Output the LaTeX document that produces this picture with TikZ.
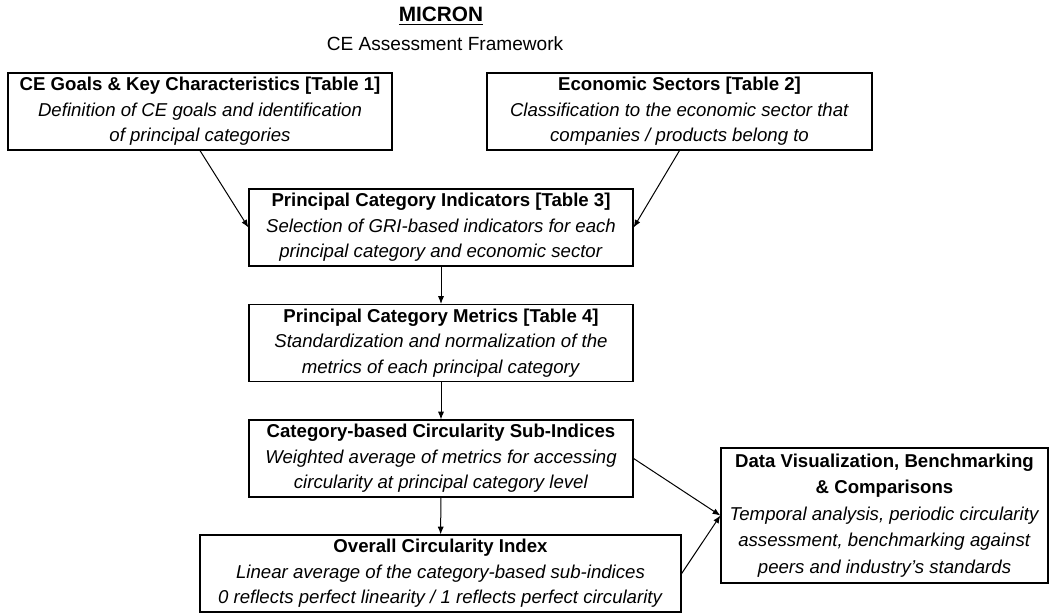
\documentclass[tikz,border=0pt]{standalone}
\usepackage{fontspec}
\setmainfont{Liberation Sans}
\usetikzlibrary{arrows.meta}

\begin{document}
\begin{tikzpicture}[x=0.65pt, y=-0.65pt,
    stage/.style={draw, line width=0.8pt, fill=white, align=center, inner sep=1pt,
        minimum width=249.6pt, minimum height=50pt,
        font=\fontsize{12.1}{16.6}\selectfont},
    link/.style={-{Latex[length=5pt, width=4pt]}, line width=0.65pt}]
            \useasboundingbox (0, 0) rectangle (1050, 615);

            %title
            \node[font=\fontsize{13.5}{16}\selectfont\bfseries] (title) at (441, 16) {\underline{MICRON}};
            \node[font=\fontsize{12.4}{16}\selectfont] (subtitle) at (445, 44) {CE Assessment Framework};

            %nodes
            \node[stage] (goals) at (200, 111.5) {\textbf{CE Goals \& Key Characteristics [Table 1]}\\
                \textit{Definition of CE goals and identification}\\ \textit{of principal categories}};
            \node[stage, minimum width=250.3pt] (sectors) at (679.5, 111.5) {\textbf{Economic Sectors [Table 2]}\\
                \textit{Classification to the economic sector that}\\ \textit{companies / products belong to}};
            \node[stage] (indicators) at (441, 227.5) {\textbf{Principal Category Indicators [Table 3]}\\
                \textit{Selection of GRI-based indicators for each}\\ \textit{principal category and economic sector}};
            \node[stage] (metrics) at (441, 343) {\textbf{Principal Category Metrics [Table 4]}\\
                \textit{Standardization and normalization of the}\\ \textit{metrics of each principal category}};
            \node[stage] (subidx) at (441, 458.5) {\textbf{Category-based Circularity Sub-Indices}\\
                \textit{Weighted average of metrics for accessing}\\ \textit{circularity at principal category level}};
            \node[stage, minimum width=312.7pt] (overall) at (440.5, 573.5) {\textbf{Overall Circularity Index}\\
                \textit{Linear average of the category-based sub-indices}\\ \textit{0 reflects perfect linearity / 1 reflects perfect circularity}};
            \node[stage, minimum width=212.6pt, minimum height=87.8pt,
                font=\fontsize{12.1}{17.2}\selectfont] (visual) at (884.5, 515.5) {\textbf{Data Visualization, Benchmarking}\\
                \textbf{\& Comparisons}\\ \textit{Temporal analysis, periodic circularity}\\
                \textit{assessment, benchmarking against}\\ \textit{peers and industry’s standards}};

            %edges
            \draw[link] (goals.south) -- (indicators.west);
            \draw[link] (sectors.south) -- (indicators.east);
            \draw[link] (indicators) -- (metrics);
            \draw[link] (metrics) -- (subidx);
            \draw[link] (subidx) -- (overall);
            \draw[link] (subidx.east) -- (visual.west);
            \draw[link] (overall.east) -- (visual.west);
        \end{tikzpicture}
\end{document}
